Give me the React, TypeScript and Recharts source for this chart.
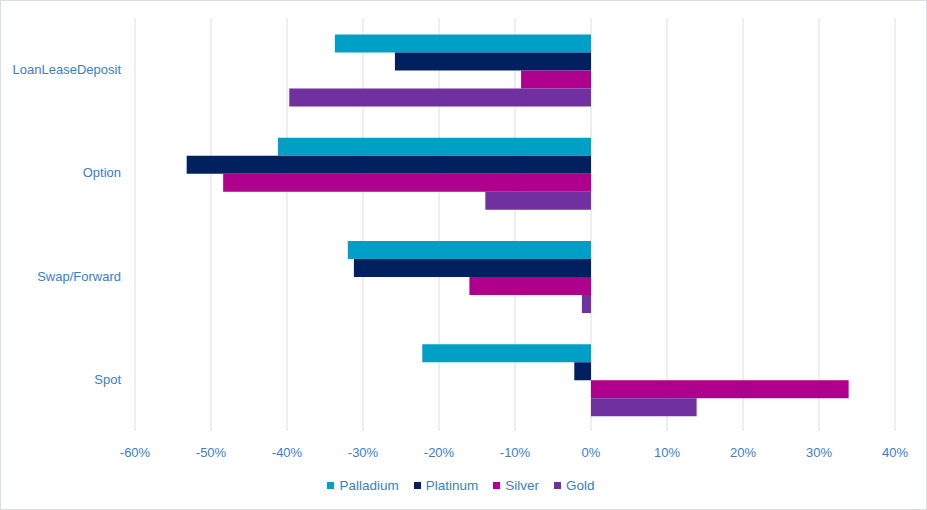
import { Bar, BarChart, CartesianGrid, Legend, XAxis, YAxis } from "recharts";

const categories = ["LoanLeaseDeposit", "Option", "Swap/Forward", "Spot"];
const palladium = [-0.337, -0.412, -0.32, -0.222];
const platinum = [-0.258, -0.532, -0.312, -0.022];
const silver = [-0.092, -0.484, -0.16, 0.339];
const gold = [-0.397, -0.139, -0.012, 0.139];
const xTicks = [-0.6, -0.5, -0.4, -0.3, -0.2, -0.1, 0, 0.1, 0.2, 0.3, 0.4];

const series = [
  { key: "Palladium", color: "#00A0C6" },
  { key: "Platinum", color: "#002060" },
  { key: "Silver", color: "#AE008C" },
  { key: "Gold", color: "#7030A0" },
];

const TEXT = "#3A7DC9";
const FONT = "'Liberation Sans', Arial, sans-serif";

const data = categories.map((name, i) => ({
  name,
  Palladium: palladium[i],
  Platinum: platinum[i],
  Silver: silver[i],
  Gold: gold[i],
}));

function LegendContent() {
  return (
    <div style={{ display: "flex", justifyContent: "center", fontFamily: FONT, fontSize: 13.5, color: TEXT }}>
      {series.map((s) => (
        <span key={s.key} style={{ display: "flex", alignItems: "center", marginRight: 15 }}>
          <span style={{ width: 7, height: 7, background: s.color, marginRight: 5, display: "inline-block" }} />
          {s.key}
        </span>
      ))}
    </div>
  );
}

export default function App() {
  return (
    <div
      style={{
        position: "absolute",
        left: 0,
        top: 0,
        width: 927,
        height: 510,
        boxSizing: "border-box",
        border: "1px solid #D6DEE8",
        background: "#fff",
      }}
    >
      <BarChart
        width={925}
        height={508}
        layout="vertical"
        data={data}
        margin={{ top: 17, right: 31, left: 0, bottom: 7 }}
        barCategoryGap="16%"
        barGap={0}
      >
        <CartesianGrid horizontal={false} stroke="#D5DEE8" />
        <XAxis
          type="number"
          domain={[-0.6, 0.4]}
          ticks={xTicks}
          tickFormatter={(v: number) => `${Math.round(v * 100)}%`}
          axisLine={false}
          tickLine={false}
          tickSize={0}
          tickMargin={17}
          height={47}
          tick={{ fill: TEXT, fontSize: 13, fontFamily: FONT }}
        />
        <YAxis
          type="category"
          dataKey="name"
          axisLine={false}
          tickLine={false}
          tickSize={0}
          tickMargin={14}
          width={134}
          tick={{ fill: TEXT, fontSize: 13, fontFamily: FONT }}
        />
        <Legend
          verticalAlign="bottom"
          height={24}
          content={<LegendContent />}
          wrapperStyle={{ left: 0, width: 935 }}
        />
        {series.map((s) => (
          <Bar key={s.key} dataKey={s.key} fill={s.color} isAnimationActive={false} />
        ))}
      </BarChart>
    </div>
  );
}
